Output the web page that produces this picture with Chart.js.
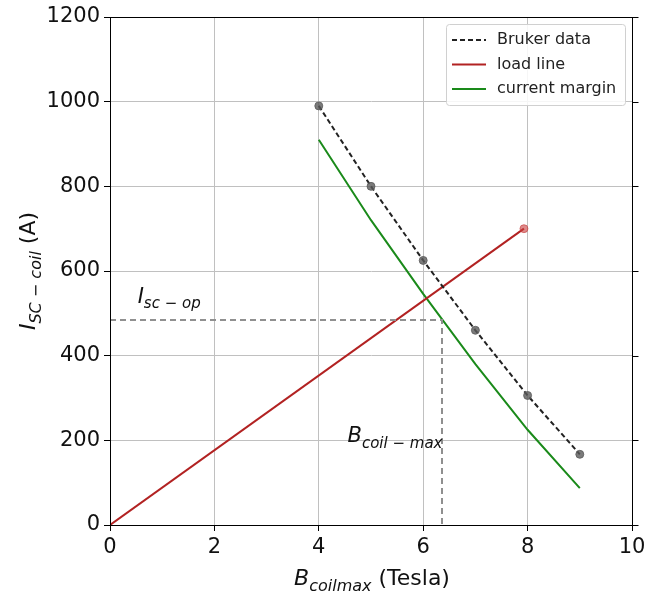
<!DOCTYPE html>
<html>
<head>
<meta charset="utf-8">
<script src="https://cdn.jsdelivr.net/npm/chart.js@4/dist/chart.umd.min.js"></script>
<style>
  html, body { margin: 0; padding: 0; background: #fff; }
  #wrap { width: 646px; height: 594px; }
</style>
</head>
<body>
<div id="wrap"><canvas id="coilChart" width="646" height="594"></canvas></div>
<script>
// values
const brukerField = [4, 5, 6, 7, 8, 9];
const brukerCurrent = [990, 800, 625, 460, 306, 167];
const marginField = [4, 5, 6, 7, 8, 9];
const marginCurrent = [910, 720, 546, 380, 225, 87];
const loadField = [0, 7.93];
const loadCurrent = [0, 700];
const opField = [0, 6.36, 6.36];
const opCurrent = [484, 484, 0];
const xTicks = [0, 2, 4, 6, 8, 10];
const yTicks = [0, 200, 400, 600, 800, 1000, 1200];

const colors = {
    bruker: "#222222",
    brukerPoint: "rgba(90, 90, 90, 0.8)",
    load: "#b22222",
    loadPoint: "rgba(200, 60, 60, 0.6)",
    margin: "#1a8a1a",
    op: "#909090",
    grid: "#c0c0c0"
};

const font = "'DejaVu Sans', sans-serif";
const toXY = (xs, ys) => xs.map((x, i) => ({ x, y: ys[i] }));

// draws text with an italic subscript part
const drawSub = (ctx, x, y, main, sub, rest, size, italicMain) => {
    ctx.font = (italicMain ? "italic " : "") + size + "px " + font;
    ctx.fillText(main, x, y);
    let cx = x + ctx.measureText(main).width;
    ctx.font = "italic " + Math.round(size * 0.72) + "px " + font;
    ctx.fillText(sub, cx, y + size * 0.25);
    cx += ctx.measureText(sub).width;
    if (rest) {
        ctx.font = size + "px " + font;
        ctx.fillText(rest, cx, y);
    }
};

const measureSub = (ctx, main, sub, rest, size, italicMain) => {
    ctx.font = (italicMain ? "italic " : "") + size + "px " + font;
    let w = ctx.measureText(main).width;
    ctx.font = "italic " + Math.round(size * 0.72) + "px " + font;
    w += ctx.measureText(sub).width;
    if (rest) {
        ctx.font = size + "px " + font;
        w += ctx.measureText(rest).width;
    }
    return w;
};

const decorations = {
    id: "decorations",
    afterDraw(chart) {
        const { ctx, chartArea: a, scales } = chart;
        ctx.save();
        // frame
        ctx.strokeStyle = "#000";
        ctx.lineWidth = 1;
        const right = Math.round(scales.x.getPixelForValue(10)) + 0.5;
        ctx.strokeRect(a.left + 0.5, a.top + 0.5, right - a.left - 0.5, a.bottom - a.top);
        // right ticks
        yTicks.forEach((v) => {
            const y = Math.round(scales.y.getPixelForValue(v)) + 0.5;
            ctx.beginPath();
            ctx.moveTo(right, y);
            ctx.lineTo(right + 6, y);
            ctx.stroke();
        });
        // annotations
        ctx.fillStyle = "#111";
        ctx.textBaseline = "alphabetic";
        drawSub(ctx, scales.x.getPixelForValue(0.53), scales.y.getPixelForValue(525),
            "I", "sc \u2212 op", "", 21, true);
        drawSub(ctx, scales.x.getPixelForValue(4.55), scales.y.getPixelForValue(195),
            "B", "coil \u2212 max", "", 21, true);

        // axis titles
        const xw = measureSub(ctx, "B", "coilmax", " (Tesla)", 22, true);
        drawSub(ctx, (a.left + a.right) / 2 - xw / 2 + 1, 585, "B", "coilmax", " (Tesla)", 22, true);
        const yw = measureSub(ctx, "I", "SC \u2212 coil", " (A)", 22, true);
        ctx.translate(35, (a.top + a.bottom) / 2);
        ctx.rotate(-Math.PI / 2);
        drawSub(ctx, -yw / 2, 0, "I", "SC \u2212 coil", " (A)", 22, true);
        ctx.restore();

        // legend
        ctx.save();
        const lx = 446, ly = 24, lw = 179, lh = 81;
        ctx.fillStyle = "rgba(255,255,255,0.85)";
        ctx.strokeStyle = "#d0d0d0";
        ctx.lineWidth = 1;
        ctx.beginPath();
        ctx.roundRect(lx + 0.5, ly + 0.5, lw, lh, 3);
        ctx.fill();
        ctx.stroke();
        const items = [
            { label: "Bruker data", color: colors.bruker, dash: [5, 3] },
            { label: "load line", color: colors.load, dash: [] },
            { label: "current margin", color: colors.margin, dash: [] }
        ];
        ctx.font = "16px " + font;
        ctx.textBaseline = "middle";
        items.forEach((it, i) => {
            const y = ly + 16 + i * 24.5;
            ctx.strokeStyle = it.color;
            ctx.lineWidth = 2;
            ctx.setLineDash(it.dash);
            ctx.beginPath();
            ctx.moveTo(lx + 6, y);
            ctx.lineTo(lx + 40, y);
            ctx.stroke();
            ctx.fillStyle = "#222";
            ctx.fillText(it.label, lx + 51, y);
        });
        ctx.restore();
    }
};

new Chart(document.getElementById("coilChart"), {
    type: "scatter",
    data: {
        datasets: [
            {
                label: "op",
                data: toXY(opField, opCurrent),
                showLine: true,
                borderColor: colors.op,
                borderWidth: 2,
                borderDash: [6, 4],
                pointRadius: 0
            },
            {
                label: "Bruker data",
                data: toXY(brukerField, brukerCurrent),
                showLine: true,
                borderColor: colors.bruker,
                borderWidth: 2,
                borderDash: [5, 3],
                pointRadius: 4,
                pointBorderWidth: 1,
                pointBackgroundColor: colors.brukerPoint,
                pointBorderColor: colors.brukerPoint
            },
            {
                label: "load line",
                data: toXY(loadField, loadCurrent),
                showLine: true,
                borderColor: colors.load,
                borderWidth: 2,
                pointRadius: [0, 4],
                pointBorderWidth: 1,
                pointBackgroundColor: colors.loadPoint,
                pointBorderColor: colors.loadPoint
            },
            {
                label: "current margin",
                data: toXY(marginField, marginCurrent),
                showLine: true,
                borderColor: colors.margin,
                borderWidth: 2,
                pointRadius: 0
            }
        ]
    },
    options: {
        responsive: false,
        animation: false,
        events: [],
        layout: { padding: { top: 17, right: 0, left: 0, bottom: 0 } },
        plugins: { legend: { display: false }, tooltip: { enabled: false } },
        scales: {
            x: {
                type: "linear",
                min: 0,
                max: 10,
                afterFit: (s) => { s.height = 69; s.paddingRight = 14; },
                afterBuildTicks: (s) => { s.ticks = xTicks.map((v) => ({ value: v })); },
                grid: { color: colors.grid, tickColor: "#000", tickLength: 6 },
                border: { color: "#000" },
                ticks: { color: "#111", font: { family: font, size: 21 }, padding: 4,
                         callback: (v) => String(v) }
            },
            y: {
                type: "linear",
                min: 0,
                max: 1200,
                afterFit: (s) => { s.width = 110; },
                afterBuildTicks: (s) => { s.ticks = yTicks.map((v) => ({ value: v })); },
                grid: { color: colors.grid, tickColor: "#000", tickLength: 6 },
                border: { color: "#000" },
                ticks: { color: "#111", font: { family: font, size: 21 }, padding: 4,
                         callback: (v) => String(v) }
            }
        }
    },
    plugins: [decorations]
});
</script>
</body>
</html>
